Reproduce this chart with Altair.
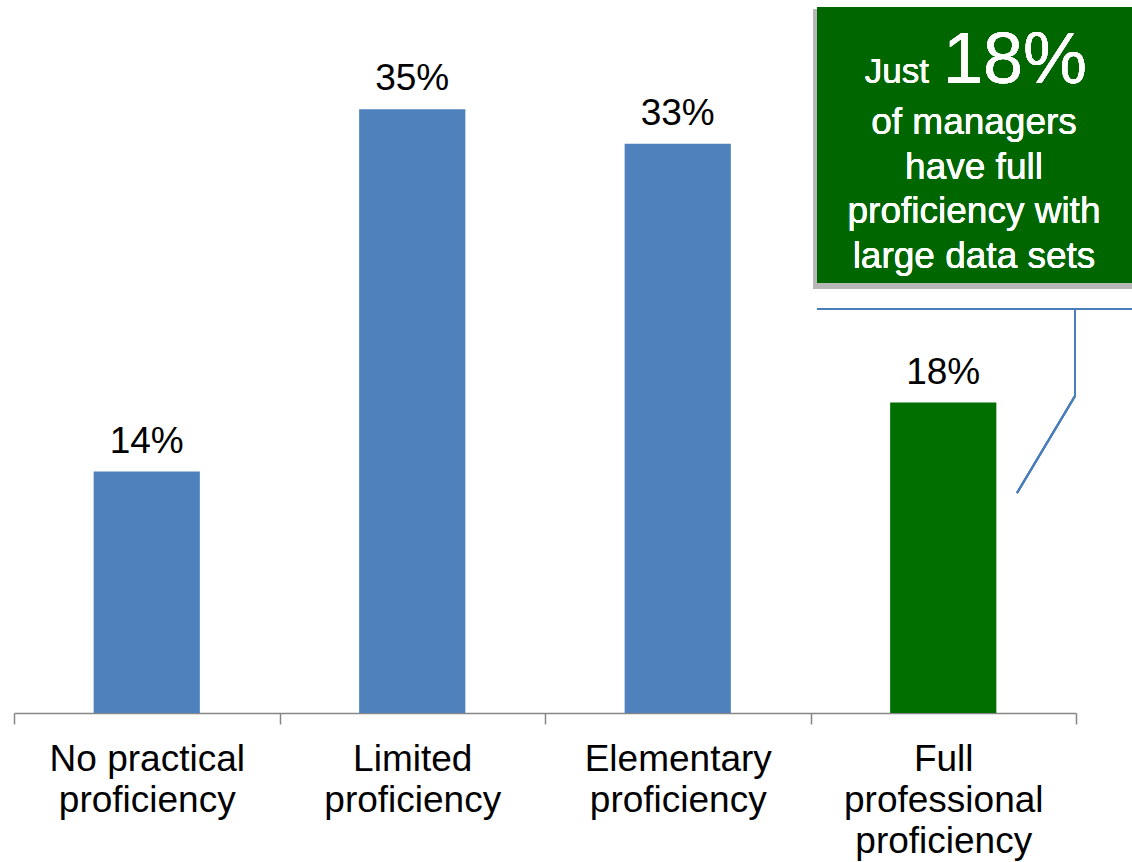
import altair as alt
import pandas as pd

categories = ["No practical\nproficiency", "Limited\nproficiency", "Elementary\nproficiency", "Full\nprofessional\nproficiency"]
values = [14, 35, 33, 18]
labels = ["14%", "35%", "33%", "18%"]
colors = ["#4F81BD", "#4F81BD", "#4F81BD", "#006F00"]

df = pd.DataFrame({"cat": categories, "val": values, "lab": labels, "col": colors})

FONT = "Liberation Sans"
PL, PT = 14, 23  # plot-area origin in page pixels


def px(v):
    return alt.value(v - PL)


def py(v):
    return alt.value(v - PT)


x = alt.X("cat:N", sort=categories, title=None,
          scale=alt.Scale(paddingInner=0, paddingOuter=0),
          axis=alt.Axis(labelExpr="split(datum.label, '\\n')", labelFont=FONT, labelFontSize=37,
                        labelLineHeight=41, labelColor="#000000", labelAngle=0, labelPadding=17,
                        labelLimit=0,
                        domainColor="#868686", domainWidth=1.5, tickColor="#868686", tickWidth=1.5,
                        tickSize=11, tickBand="extent", labelBaseline="top"))
y = alt.Y("val:Q", scale=alt.Scale(domain=[0, 40], nice=False), axis=None)

bars = alt.Chart(df).mark_bar(width={"band": 0.4}).encode(
    x=x, y=y, color=alt.Color("col:N", scale=None))
txt = alt.Chart(df).mark_text(font=FONT, fontSize=37, baseline="alphabetic", dy=-19, color="#000000").encode(
    x=x, y=y, text="lab:N")

shadow = alt.Chart(df).mark_rect(color="#000000", opacity=0.08).encode(
    x=px(813), x2=px(1132), y=py(9), y2=py(289))
box = alt.Chart(df).mark_rect(color="#006600").encode(
    x=px(817), x2=px(1132), y=py(7), y2=py(283))

just = alt.Chart(df).mark_text(font=FONT, fontSize=35, color="white", align="right", baseline="alphabetic").encode(
    x=px(929), y=py(83), text=alt.value("Just"))
big = alt.Chart(df).mark_text(font=FONT, fontSize=72, color="white", align="left", baseline="alphabetic").encode(
    x=px(943), y=py(83), text=alt.value("18%"))

callout_lines = ["of managers", "have full", "proficiency with", "large data sets"]
callout_y = [134, 179, 223, 268]
lines = [alt.Chart(df).mark_text(font=FONT, fontSize=37, color="white", align="center", baseline="alphabetic").encode(
    x=px(974), y=py(yy), text=alt.value(t)) for t, yy in zip(callout_lines, callout_y)]

LC = "#4A7EBB"
r1 = alt.Chart(df).mark_rule(color=LC, strokeWidth=2).encode(
    x=px(817), x2=px(1132), y=py(309), y2=py(309))
r2 = alt.Chart(df).mark_rule(color=LC, strokeWidth=2).encode(
    x=px(1075), x2=px(1075), y=py(309), y2=py(396))
r3 = alt.Chart(df).mark_rule(color=LC, strokeWidth=2).encode(
    x=px(1075), x2=px(1017), y=py(396), y2=py(493))

chart = alt.layer(bars, txt, shadow, box, just, big, *lines, r1, r2, r3).properties(
    width=1062, height=690,
    background="white",
    padding={"left": PL, "top": PT, "right": 56, "bottom": 149},
    autosize=alt.AutoSizeParams(type="none"),
).configure_view(stroke=None, strokeWidth=0)

chart.save("out.html", embed_options={"renderer": "svg", "actions": False})
